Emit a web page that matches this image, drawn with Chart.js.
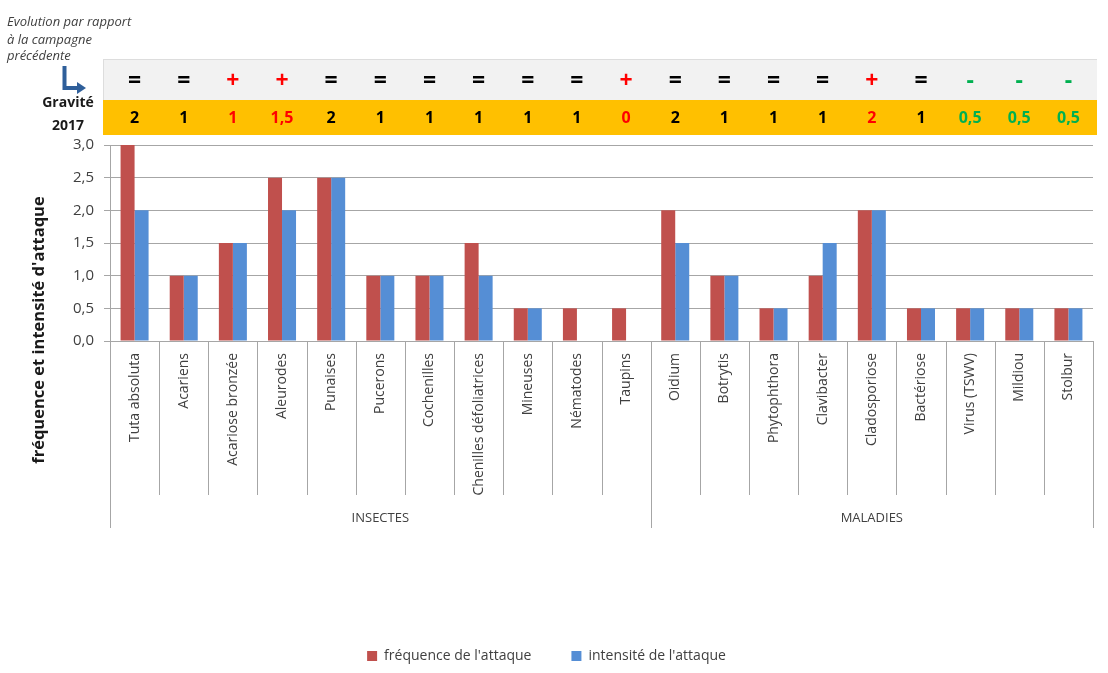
<!DOCTYPE html>
<html>
<head>
<meta charset="utf-8">
<script src="https://cdn.jsdelivr.net/npm/chart.js@4/dist/chart.umd.min.js"></script>
<style>
  html, body { margin: 0; padding: 0; background: #fff; }
  #wrap { width: 1108px; height: 673px; position: relative; }
</style>
</head>
<body>
<div id="wrap"><canvas id="ChartCanvas"></canvas></div>
<script>
// categories
const categories = ['Tuta absoluta', 'Acariens', 'Acariose bronzée', 'Aleurodes', 'Punaises', 'Pucerons',
    'Cochenilles', 'Chenilles défoliatrices', 'Mineuses', 'Nématodes', 'Taupins',
    'Oidium', 'Botrytis', 'Phytophthora', 'Clavibacter', 'Cladosporiose', 'Bactériose',
    'Virus (TSWV)', 'Mildiou', 'Stolbur'];

// groups: label + number of categories
const groupLabels = ['INSECTES', 'MALADIES'];
const groupSizes = [11, 9];

// series
const frequence = [3.0, 1.0, 1.5, 2.5, 2.5, 1.0, 1.0, 1.5, 0.5, 0.5, 0.5, 2.0, 1.0, 0.5, 1.0, 2.0, 0.5, 0.5, 0.5, 0.5];
const intensite = [2.0, 1.0, 1.5, 2.0, 2.5, 1.0, 1.0, 1.0, 0.5, null, null, 1.5, 1.0, 0.5, 1.5, 2.0, 0.5, 0.5, 0.5, 0.5];

// header rows
const evolution = ['=', '=', '+', '+', '=', '=', '=', '=', '=', '=', '+', '=', '=', '=', '=', '+', '=', '-', '-', '-'];
const gravite = ['2', '1', '1', '1,5', '2', '1', '1', '1', '1', '1', '0', '2', '1', '1', '1', '2', '1', '0,5', '0,5', '0,5'];

const RED = '#C0504D';
const BLUE = '#558ED5';

function SignColor(sign)
{
    if (sign === '+') return '#FF0000';
    if (sign === '-') return '#00B050';
    return '#000000';
}

// Draws the table above the plot, the category separators and side texts
const decorPlugin = {
    id: 'decor',
    afterDraw(chart)
    {
        const ctx = chart.ctx;
        const area = chart.chartArea;
        const x = chart.scales.x;
        const step = (area.right - area.left) / categories.length;

        ctx.save();

        // grey evolution row and yellow gravity row
        ctx.fillStyle = '#F2F2F2';
        ctx.fillRect(103, 59, 994, 41);
        ctx.strokeStyle = '#DDDDDD';
        ctx.lineWidth = 1;
        ctx.beginPath();
        ctx.moveTo(103, 59.5); ctx.lineTo(1097, 59.5);
        ctx.moveTo(103.5, 59); ctx.lineTo(103.5, 100);
        ctx.stroke();
        ctx.fillStyle = '#FFC000';
        ctx.fillRect(103, 100, 994, 35);

        ctx.textAlign = 'center';
        ctx.textBaseline = 'middle';
        for (let i = 0; i < categories.length; i++)
        {
            const cx = x.getPixelForValue(i);
            const col = SignColor(evolution[i]);
            ctx.fillStyle = col;
            ctx.font = 'bold 23px "Open Sans", sans-serif';
            ctx.fillText(evolution[i], cx, 81);
            ctx.font = 'bold 16px "Open Sans", sans-serif';
            ctx.fillText(gravite[i], cx, 118);
        }

        // top left note
        ctx.fillStyle = '#404040';
        ctx.textAlign = 'left';
        ctx.font = 'italic 13px "Open Sans", sans-serif';
        ctx.fillText('Evolution par rapport', 7, 22);
        ctx.fillText('à la campagne', 7, 40);
        ctx.fillText('précédente', 7, 56);

        // L arrow
        ctx.strokeStyle = '#2F5F9A';
        ctx.fillStyle = '#2F5F9A';
        ctx.lineWidth = 4;
        ctx.beginPath();
        ctx.moveTo(64.5, 66);
        ctx.lineTo(64.5, 88);
        ctx.lineTo(78, 88);
        ctx.stroke();
        ctx.beginPath();
        ctx.moveTo(77, 82);
        ctx.lineTo(86, 88);
        ctx.lineTo(77, 94);
        ctx.closePath();
        ctx.fill();

        // Gravité 2017
        ctx.fillStyle = '#1A1A1A';
        ctx.textAlign = 'center';
        ctx.font = 'bold 14px "Open Sans", sans-serif';
        ctx.fillText('Gravité', 68, 103);
        ctx.fillText('2017', 68, 126);

        // y axis title
        ctx.save();
        ctx.translate(39, 330);
        ctx.rotate(-Math.PI / 2);
        ctx.font = 'bold 16.5px "Open Sans", sans-serif';
        ctx.fillStyle = '#1A1A1A';
        ctx.fillText("fréquence et intensité d'attaque", 0, 0);
        ctx.restore();

        // category separators below the axis
        ctx.strokeStyle = '#A6A6A6';
        ctx.lineWidth = 1;
        ctx.beginPath();
        let start = 0;
        for (let g = 0; g <= groupSizes.length; g++)
        {
            const bx = Math.round(area.left + start * step) + 0.5;
            ctx.moveTo(bx, area.bottom);
            ctx.lineTo(bx, 528);
            if (g < groupSizes.length) start += groupSizes[g];
        }
        for (let i = 1; i < categories.length; i++)
        {
            const bx = Math.round(area.left + i * step) + 0.5;
            ctx.moveTo(bx, area.bottom);
            ctx.lineTo(bx, 495);
        }
        ctx.stroke();

        // group labels
        ctx.fillStyle = '#404040';
        ctx.font = '13px "Open Sans", sans-serif';
        start = 0;
        for (let g = 0; g < groupSizes.length; g++)
        {
            const gx = area.left + (start + groupSizes[g] / 2) * step;
            ctx.fillText(groupLabels[g], gx, 518);
            start += groupSizes[g];
        }

        ctx.restore();
    }
};

const canvas = document.getElementById('ChartCanvas');
const chart = new Chart(canvas.getContext('2d'), {
    type: 'bar',
    data: {
        labels: categories,
        datasets: [
            {
                label: "fréquence de l'attaque",
                data: frequence,
                backgroundColor: RED
            },
            {
                label: "intensité de l'attaque",
                data: intensite,
                backgroundColor: BLUE
            }
        ]
    },
    options: {
        responsive: true,
        maintainAspectRatio: false,
        animation: false,
        layout: {
            padding: { top: 145, left: 0, right: 15, bottom: 0 }
        },
        datasets: {
            bar: { categoryPercentage: 0.57, barPercentage: 1.0 }
        },
        scales: {
            x: {
                grid: { display: false },
                border: { display: false },
                ticks: {
                    autoSkip: false,
                    minRotation: 90,
                    maxRotation: 90,
                    padding: 4,
                    color: '#404040',
                    font: { family: '"Open Sans", sans-serif', size: 14 }
                },
                afterFit: s => { s.height = 268; }
            },
            y: {
                min: 0,
                max: 3,
                grid: { color: '#A6A6A6', tickLength: 6 },
                border: { color: '#A6A6A6' },
                ticks: {
                    stepSize: 0.5,
                    padding: 10,
                    color: '#404040',
                    font: { family: '"Open Sans", sans-serif', size: 15 },
                    callback: v => v.toFixed(1).replace('.', ',')
                },
                afterFit: s => { s.width = 110; }
            }
        },
        plugins: {
            legend: {
                position: 'bottom',
                labels: {
                    boxWidth: 10,
                    boxHeight: 10,
                    padding: 40,
                    color: '#404040',
                    font: { family: '"Open Sans", sans-serif', size: 14 }
                }
            },
            tooltip: { enabled: false }
        }
    },
    plugins: [decorPlugin]
});
</script>
</body>
</html>
